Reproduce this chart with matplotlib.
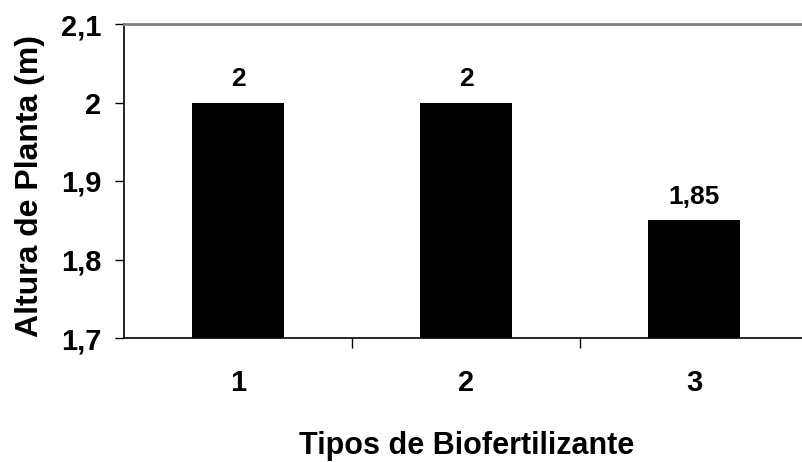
import matplotlib.pyplot as plt
import numpy as np

# --- data ---
categories = ['1', '2', '3']
alturas = [2.0, 2.0, 1.85]
bar_labels = ['2', '2', '1,85']
y_ticks = [1.7, 1.8, 1.9, 2.0, 2.1]
y_tick_labels = ['1,7', '1,8', '1,9', '2', '2,1']

plt.rcParams['font.family'] = 'Liberation Sans'
plt.rcParams['font.weight'] = 'bold'

fig = plt.figure(figsize=(8.02, 4.62), dpi=100)
# axes runs slightly past the right edge, like the cropped original
ax = fig.add_axes([124/802, 124/462, 684/802, 314/462])

x = np.arange(len(categories))
bars = ax.bar(x, alturas, width=0.405, color='black', zorder=2)
ax.bar_label(bars, labels=bar_labels, padding=8, fontsize=19, fontweight='bold')

ax.set_xlim(-0.5, 2.5)
ax.set_ylim(1.7, 2.1)

ax.set_yticks(y_ticks)
ax.set_yticklabels(y_tick_labels, fontsize=21, fontweight='bold')
ax.tick_params(axis='y', direction='out', length=6.5, width=1, pad=10)

ax.set_xticks(x)
ax.set_xticklabels(categories, fontsize=21, fontweight='bold')
ax.tick_params(axis='x', which='major', length=0, pad=22)
ax.set_xticks([0.5, 1.5], minor=True)
ax.tick_params(axis='x', which='minor', direction='out', length=7, width=1)

for side in ['left', 'bottom']:
    ax.spines[side].set_linewidth(1.2)
    ax.spines[side].set_color('black')
ax.spines['top'].set_color('#808080')
ax.spines['top'].set_linewidth(2)
ax.spines['right'].set_visible(False)

fig.text(30/802, 1 - 186/462, 'Altura de Planta (m)', rotation=90,
         ha='center', va='center', fontsize=23, fontweight='bold')
fig.text(467/802, 1 - 446/462, 'Tipos de Biofertilizante',
         ha='center', va='center', fontsize=22, fontweight='bold')

fig.savefig('out.png', dpi=100)
